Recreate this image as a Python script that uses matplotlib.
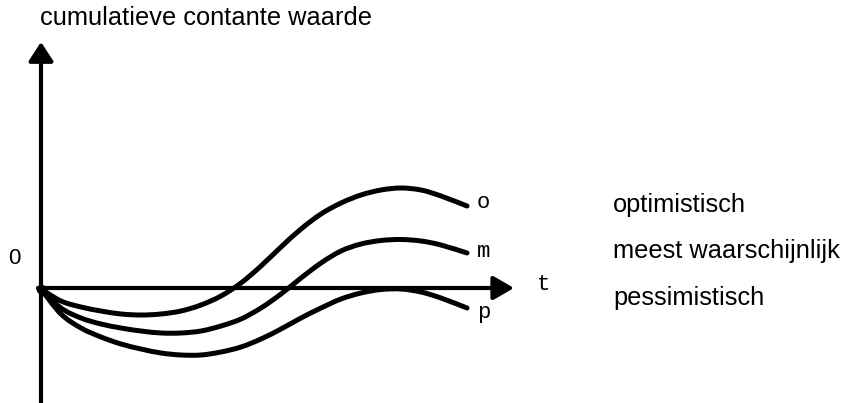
import matplotlib
matplotlib.use("Agg")
import matplotlib.pyplot as plt
from matplotlib.path import Path
from matplotlib.patches import PathPatch

# time axis (arbitrary units) and cumulative present value per scenario
t = [0, 2, 4, 6, 8, 10, 12, 14, 16, 18, 20, 22, 24, 26, 28, 30, 32, 34, 36, 38, 40, 42.6]
v_o = [0, -1.2, -1.8, -2.2, -2.5, -2.6, -2.5, -2.2, -1.6, -0.7, 0.6, 2.3,
       4.2, 6.0, 7.5, 8.6, 9.4, 9.9, 10.1, 9.9, 9.3, 8.3]
v_m = [0, -1.9, -2.9, -3.5, -3.9, -4.2, -4.4, -4.4, -4.2, -3.7, -3.0, -1.9,
       -0.5, 1.1, 2.6, 3.8, 4.5, 4.85, 4.95, 4.8, 4.4, 3.6]
v_p = [0, -2.5, -3.9, -4.8, -5.5, -6.0, -6.4, -6.6, -6.6, -6.3, -5.8, -5.0,
       -4.0, -2.9, -1.9, -1.0, -0.4, -0.05, 0.0, -0.3, -0.9, -1.9]

curve_tags = ["o", "m", "p"]
scenario_names = ["optimistisch", "meest waarschijnlijk", "pessimistisch"]
y_title = "cumulatieve contante waarde"
x_title = "t"
origin_label = "0"

sans = "Liberation Sans"
mono = "Liberation Mono"


def smooth_path(xs, ys):
    # cubic bezier segments through every point (catmull-rom tangents)
    pts = list(zip(xs, ys))
    n = len(pts)
    verts = [pts[0]]
    codes = [Path.MOVETO]
    for i in range(n - 1):
        p0 = pts[max(i - 1, 0)]
        p1 = pts[i]
        p2 = pts[i + 1]
        p3 = pts[min(i + 2, n - 1)]
        c1 = (p1[0] + (p2[0] - p0[0]) / 6, p1[1] + (p2[1] - p0[1]) / 6)
        c2 = (p2[0] - (p3[0] - p1[0]) / 6, p2[1] - (p3[1] - p1[1]) / 6)
        verts += [c1, c2, p2]
        codes += [Path.CURVE4] * 3
    return Path(verts, codes)


fig = plt.figure(figsize=(8.44, 4.03), dpi=100)
ax = fig.add_axes([0, 0, 1, 1])
ax.set_xlim(-4.1, 80.3)
ax.set_ylim(-11.4, 28.9)
ax.set_axis_off()

# axes with arrow heads
ax.annotate("", xy=(0, 24.7), xytext=(0, -11.4),
            arrowprops=dict(arrowstyle="-|>,head_length=1.15,head_width=0.75",
                            lw=3, color="black", shrinkA=0, shrinkB=0,
                            mutation_scale=10))
ax.annotate("", xy=(47.3, 0.1), xytext=(-0.3, 0.1),
            arrowprops=dict(arrowstyle="-|>,head_length=1.25,head_width=0.72",
                            lw=3, color="black", shrinkA=0, shrinkB=0,
                            mutation_scale=10))
ax.plot([0], [0], "o", color="black", ms=6)

for v in [v_o, v_m, v_p]:
    ax.add_patch(PathPatch(smooth_path(t, v), fill=False, edgecolor="black",
                           lw=3.6, capstyle="round", joinstyle="round"))

# labels
ax.text(-0.1, 27.1, y_title, family=sans, fontsize=18.3, ha="left", va="center")
ax.text(-2.7, 3.0, origin_label, family=sans, fontsize=16, ha="center", va="center")
ax.text(49.6, -0.1, x_title, family=mono, fontsize=16, ha="left", va="baseline")

tag_y = [8.1, 3.2, -2.9]
name_y = [7.7, 3.1, -1.6]
for tag, name, ty, ny in zip(curve_tags, scenario_names, tag_y, name_y):
    ax.text(43.6, ty, tag, family=mono, fontsize=16, ha="left", va="baseline")
    ax.text(57.2, ny, name, family=sans, fontsize=18.3, ha="left", va="baseline")

fig.savefig("out.png", dpi=100, facecolor="white")
